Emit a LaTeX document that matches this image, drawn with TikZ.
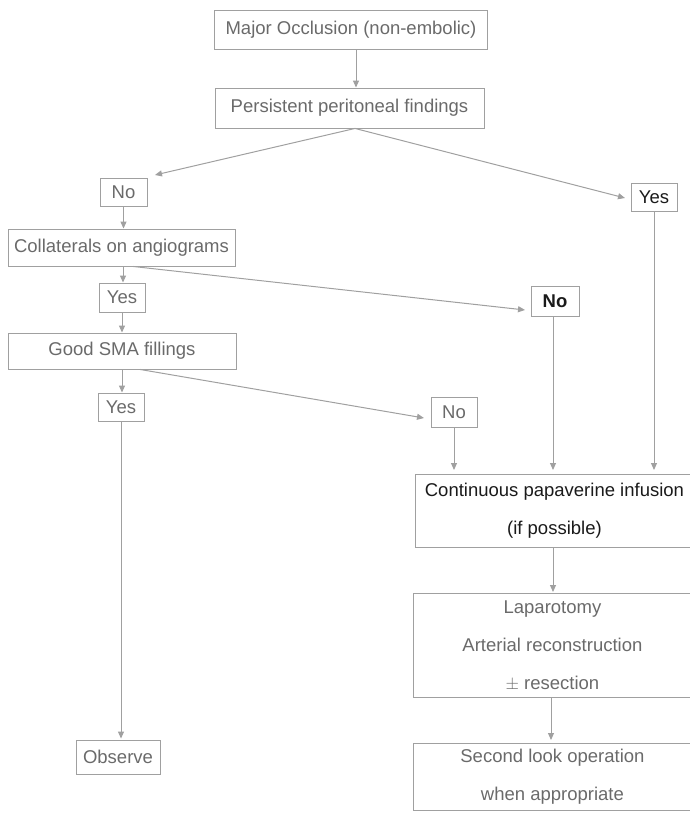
\documentclass[tikz,border=0pt]{standalone}
\usepackage{fontspec}
\setmainfont{Liberation Sans}
\usetikzlibrary{arrows.meta}
\definecolor{linegray}{HTML}{A0A0A0}
\definecolor{textgray}{HTML}{6A6A6A}
\definecolor{textdark}{HTML}{1A1A1A}
\begin{document}
\begin{tikzpicture}[x=1pt,y=-1pt,
  box/.style={draw=linegray, line width=0.9pt, rectangle, inner sep=0pt,
    text=textgray, font=\fontsize{18.5}{38}\selectfont, align=center},
  darkbox/.style={box, text=textdark},
  flow/.style={draw=linegray, line width=1pt,
    -{Triangle[length=7pt,width=6pt]}},
]
\useasboundingbox (0,0) rectangle (689,813);

% decision and action boxes
\node[box, minimum width=273pt, minimum height=39pt] (occl) at (351,30) {Major Occlusion (non-embolic)};
\node[box, minimum width=269pt, minimum height=40pt] (perit) at (349.5,108) {Persistent peritoneal findings};
\node[box, minimum width=47pt, minimum height=28pt] (noA) at (123.5,192) {No};
\node[darkbox, minimum width=46pt, minimum height=28pt] (yesA) at (654,197) {Yes};
\node[box, minimum width=227pt, minimum height=37pt] (coll) at (121.5,247.5) {Collaterals on angiograms};
\node[box, minimum width=46pt, minimum height=29pt] (yesB) at (122,297.5) {Yes};
\node[darkbox, minimum width=48pt, minimum height=30pt, font=\bfseries\fontsize{18.5}{38}\selectfont] (noB) at (555,301) {No};
\node[box, minimum width=228pt, minimum height=36pt] (sma) at (122,351) {Good SMA fillings};
\node[box, minimum width=46pt, minimum height=28pt] (yesC) at (121,407) {Yes};
\node[box, minimum width=46pt, minimum height=30pt] (noC) at (454,412) {No};
% the wide boxes run on past the right edge of the page
\node[darkbox, minimum width=278pt, minimum height=73pt, anchor=north west] (papav) at (415,474)
  {Continuous papaverine infusion\\(if possible)};
\node[box, minimum width=278pt, minimum height=104pt, anchor=north west] (lapar) at (413,593)
  {Laparotomy\\Arterial reconstruction\\$\pm$ resection};
\node[box, minimum width=278pt, minimum height=67pt, anchor=north west] (second) at (413,743)
  {Second look operation\\when appropriate};
\node[box, minimum width=84pt, minimum height=34pt] (obs) at (118,757) {Observe};

% free ends of the slanted arrows
\coordinate (tipNoA) at (155,175);
\coordinate (tipYesA) at (625,198);
\coordinate (tipNoB) at (525,310);
\coordinate (tipNoC) at (424,418);

% connectors
\draw[flow] (occl.south -| 356,0) -- (perit.north -| 356,0);
\draw[flow] (perit.south -| 355,0) -- (tipNoA);
\draw[flow] (perit.south -| 355,0) -- (tipYesA);
\draw[flow] (noA.south) -- (coll.north -| noA.south);
\draw[flow] (coll.south -| 123,0) -- (yesB.north -| 123,0);
\draw[flow] (coll.south -| 133,0) -- (tipNoB);
\draw[flow] (yesB.south) -- (sma.north -| yesB.south);
\draw[flow] (sma.south -| 122,0) -- (yesC.north -| 122,0);
\draw[flow] (sma.south -| 140,0) -- (tipNoC);
\draw[flow, shorten >=4pt] (noC.south) -- (papav.north -| noC.south);
\draw[flow, shorten >=4pt] (noB.south -| 553,0) -- (papav.north -| 553,0);
\draw[flow, shorten >=4pt] (yesA.south) -- (papav.north -| yesA.south);
\draw[flow, shorten >=1pt] (yesC.south) -- (obs.north -| yesC.south);
\draw[flow, shorten >=1pt] (papav.south -| 553,0) -- (lapar.north -| 553,0);
\draw[flow, shorten >=3pt] (lapar.south -| 551,0) -- (second.north -| 551,0);
\end{tikzpicture}
\end{document}
